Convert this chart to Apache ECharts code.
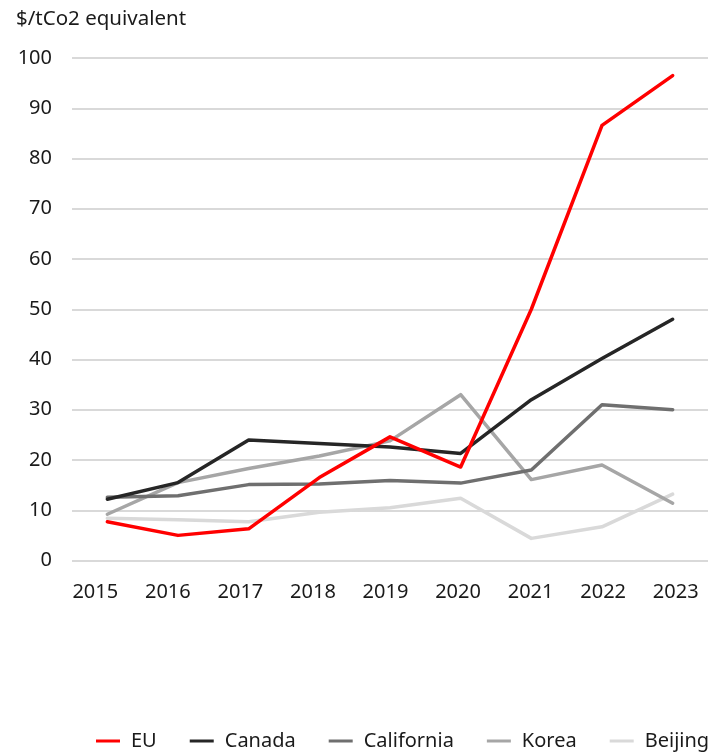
<!DOCTYPE html>
<html>
<head>
<meta charset="utf-8">
<script src="https://cdn.jsdelivr.net/npm/echarts@6/dist/echarts.min.js"></script>
<style>
  html, body { margin: 0; padding: 0; background: #fff; }
  #chart { width: 717px; height: 752px; }
</style>
</head>
<body>
<div id="chart"></div>
<script>
// Carbon prices by emissions trading system, $/tCO2 equivalent
const years = ['2015', '2016', '2017', '2018', '2019', '2020', '2021', '2022', '2023'];
const eu         = [7.7, 5.0, 6.3, 16.5, 24.6, 18.6, 50.0, 86.6, 96.5];
const canada     = [12.2, 15.5, 24.0, 23.3, 22.6, 21.3, 32.0, 40.2, 48.0];
const california = [12.6, 12.9, 15.1, 15.2, 15.9, 15.4, 18.0, 31.0, 30.0];
const korea      = [9.2, 15.5, 18.3, 20.8, 23.8, 33.0, 16.1, 19.0, 11.4];
const beijing    = [8.4, 8.1, 7.7, 9.6, 10.5, 12.4, 4.4, 6.7, 13.2];

const seriesDefs = [
  { name: 'EU', data: eu, color: '#ff0000' },
  { name: 'Canada', data: canada, color: '#262626' },
  { name: 'California', data: california, color: '#6f6f6f' },
  { name: 'Korea', data: korea, color: '#a6a6a6' },
  { name: 'Beijing', data: beijing, color: '#d9d9d9' }
];

const font = '"Noto Sans", "Open Sans", sans-serif';
const fs = 20;
const chart = echarts.init(document.getElementById('chart'), null, { renderer: 'canvas' });

chart.setOption({
  animation: false,
  backgroundColor: '#ffffff',
  textStyle: { fontFamily: font },
  title: {
    text: '$/tCo2 equivalent',
    left: 11, top: 4,
    textStyle: { fontFamily: font, fontSize: 20.5, fontWeight: 'normal', color: '#1a1a1a' }
  },
  legend: {
    left: 91, top: 726, width: 1200,
    itemWidth: 24, itemHeight: 3, itemGap: 33,
    icon: 'rect',
    textStyle: { fontFamily: font, fontSize: fs, color: '#1a1a1a', padding: [0, 0, 0, 6] },
    data: seriesDefs.map(s => s.name)
  },
  grid: [
    { left: 72, right: 9, top: 58, bottom: 191.5 },
    { left: 59, right: 5, top: 58, bottom: 191.5 }
  ],
  xAxis: [
    {
      type: 'category', data: years, gridIndex: 0, boundaryGap: true,
      axisLine: { show: false }, axisTick: { show: false }, axisLabel: { show: false }
    },
    {
      type: 'category', data: years, gridIndex: 1, boundaryGap: true,
      axisLine: { show: false }, axisTick: { show: false },
      axisLabel: { fontFamily: font, fontSize: fs, color: '#1a1a1a', margin: 22 }
    }
  ],
  yAxis: [
    {
      type: 'value', gridIndex: 0, min: 0, max: 100, interval: 10,
      axisLine: { show: false }, axisTick: { show: false },
      axisLabel: { fontFamily: font, fontSize: fs, color: '#1a1a1a', margin: 20 },
      splitLine: { lineStyle: { color: '#d9d9d9', width: 2 } }
    },
    {
      type: 'value', gridIndex: 1, min: 0, max: 100, show: false
    }
  ],
  series: seriesDefs.map(s => ({
    name: s.name,
    type: 'line',
    xAxisIndex: 0, yAxisIndex: 0,
    data: s.data,
    symbol: 'none',
    color: s.color,
    lineStyle: { color: s.color, width: 3.5, cap: 'round', join: 'round' },
    z: 10
  })).reverse()
});
</script>
</body>
</html>
